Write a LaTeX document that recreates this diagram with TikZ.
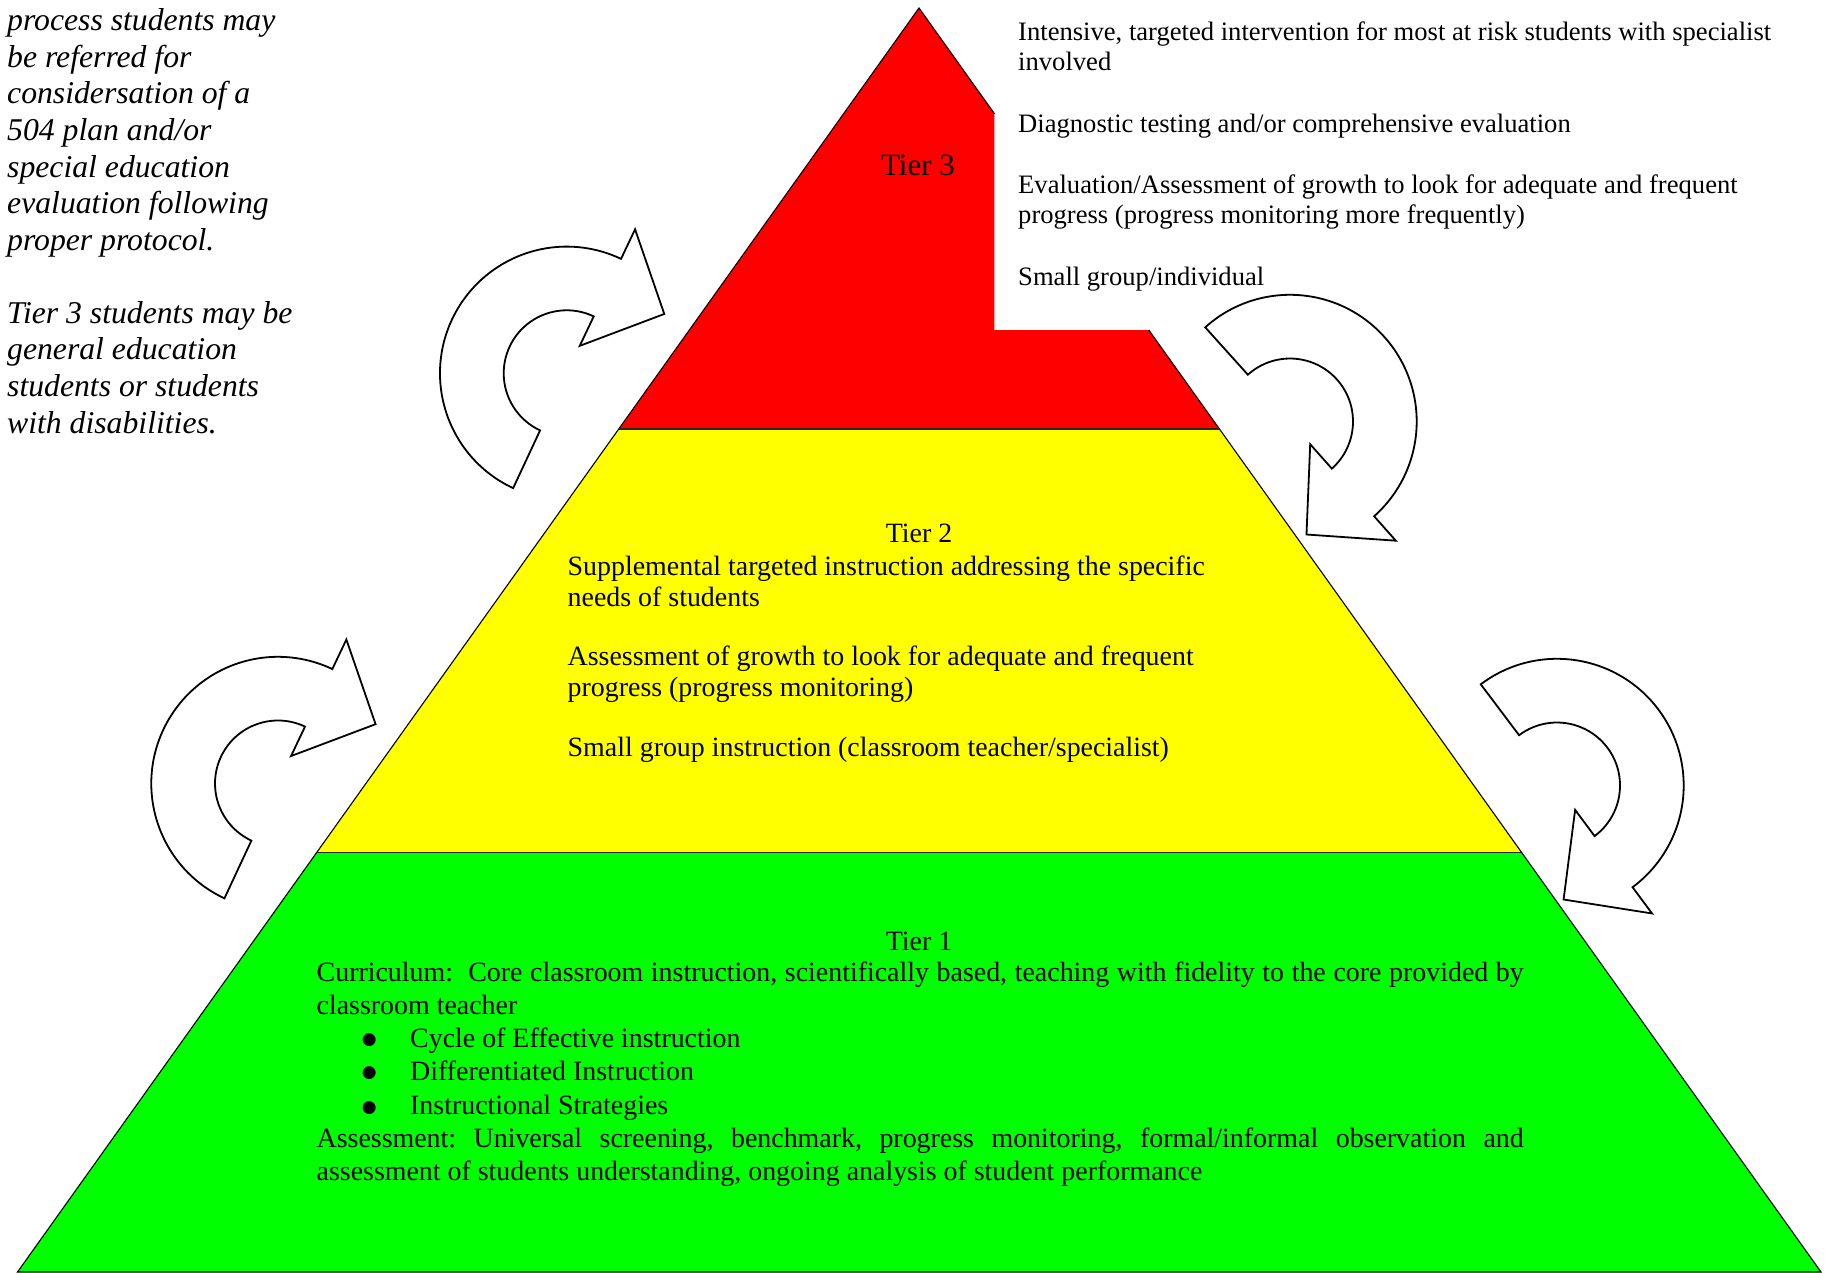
\documentclass[tikz,border=0pt]{standalone}
\usepackage{fontspec}
\setmainfont{Liberation Serif}
\newfontfamily\bulfont{DejaVu Sans}
\usetikzlibrary{calc}
\definecolor{tred}{HTML}{FF0000}
\definecolor{tyellow}{HTML}{FFFF00}
\definecolor{tgreen}{HTML}{00FF00}
\frenchspacing
\tikzset{
  txt/.style={anchor=base west, inner sep=0pt, font=\fontsize{27.9}{33}\selectfont},
  txtthree/.style={anchor=base west, inner sep=0pt, font=\fontsize{26.6}{30}\selectfont},
  ital/.style={anchor=base west, inner sep=0pt, font=\fontsize{31.7}{36.6}\selectfont\itshape},
  tierlabel/.style={anchor=base, inner sep=0pt, font=\fontsize{27.9}{33}\selectfont},
  bul/.style={anchor=base, inner sep=0pt, font=\bulfont\fontsize{17}{20}\selectfont},
  pyredge/.style={draw=black, line width=1.1pt, line join=miter},
  tierline/.style={draw=black!85, line width=1.4pt},
  arrowshape/.style={draw=black, line width=1.8pt, fill=white, line join=miter},
  cycarrow/.pic={
    \draw[arrowshape] (245:126.7) arc[start angle=245, end angle=64.6, radius=126.7]
      -- (64.6:159.4) -- (31.3:114.2) -- (64.6:30.4) -- (64.6:63)
      arc[start angle=64.6, end angle=245, radius=63] -- cycle;
  }
}
\begin{document}
\begin{tikzpicture}[x=1pt,y=1pt]
\useasboundingbox (0,0) rectangle (1828,-1272);
% pyramid geometry
\coordinate (A) at (919,-8);
\coordinate (BL) at (17.5,-1272);
\coordinate (BR) at (1821,-1272);
\coordinate (L3) at ($(A)!0.33307!(BL)$);
\coordinate (R3) at ($(A)!0.33307!(BR)$);
\coordinate (L2) at ($(A)!0.66788!(BL)$);
\coordinate (R2) at ($(A)!0.66788!(BR)$);
\coordinate (N1) at ($(A)!0.08362!(BR)$);
\coordinate (N2) at ($(A)!0.25475!(BR)$);
\coordinate (N1b) at (N1 |- N2);
% tiers
\fill[tgreen] (L2) -- (R2) -- (BR) -- (BL) -- cycle;
\fill[tyellow] (L3) -- (R3) -- (R2) -- (L2) -- cycle;
\fill[tred] (A) -- (N1) -- (N1b) -- (N2) -- (R3) -- (L3) -- cycle;
\draw[pyredge] (N1) -- (A) -- (BL) -- (BR) -- (N2);
\draw[tierline] (L3) -- (R3);
\draw[tierline] (L2) -- (R2);
% circular arrows
\pic at (566.7,-373.3) {cycarrow};
\pic at (278,-783.5) {cycarrow};
\pic[rotate=-113] at (1290,-421.5) {cycarrow};
\pic[rotate=-118] at (1557,-785.5) {cycarrow};
% left italic note
\node[ital] (n1) at (7,-30.6) {process students may};
\node[ital] (n2) at (7,-67.2) {be referred for};
\node[ital] (n3) at (7,-103.8) {considersation of a};
\node[ital] (n4) at (7,-140.4) {504 plan and/or};
\node[ital] (n5) at (7,-177) {special education};
\node[ital] (n6) at (7,-213.6) {evaluation following};
\node[ital] (n7) at (7,-250.2) {proper protocol.};
\node[ital] (n8) at (7,-323) {Tier 3 students may be};
\node[ital] (n9) at (7,-359.7) {general education};
\node[ital] (n10) at (7,-396.4) {students or students};
\node[ital] (n11) at (7,-433.1) {with disabilities.};
% tier 3
\node[tierlabel, font=\fontsize{31}{36}\selectfont] (tier3) at (918,-175) {Tier 3};
\node[txtthree] (c1) at (1018,-40.7) {Intensive, targeted intervention for most at risk students with specialist};
\node[txtthree] (c2) at (1018,-70) {involved};
\node[txtthree] (c3) at (1018,-132.3) {Diagnostic testing and/or comprehensive evaluation};
\node[txtthree] (c4) at (1018,-193.3) {Evaluation/Assessment of growth to look for adequate and frequent};
\node[txtthree] (c5) at (1018,-223.3) {progress (progress monitoring more frequently)};
\node[txtthree] (c6) at (1018,-285) {Small group/individual};
% tier 2
\node[tierlabel] (tier2) at (919,-542.7) {Tier 2};
\node[txt] (b1) at (567.5,-575) {Supplemental targeted instruction addressing the specific};
\node[txt] (b2) at (567.5,-606.7) {needs of students};
\node[txt] (b3) at (567.5,-665) {Assessment of growth to look for adequate and frequent};
\node[txt] (b4) at (567.5,-696.7) {progress (progress monitoring)};
\node[txt] (b5) at (567.5,-756.7) {Small group instruction (classroom teacher/specialist)};
% tier 1
\node[tierlabel] (tier1) at (919,-950) {Tier 1};
\node[txt] (a1) at (316.5,-981.7) {\makebox[1207pt][s]{Curriculum:\ \ Core classroom instruction, scientifically based, teaching with fidelity to the core provided by}};
\node[txt] (a2) at (316.5,-1014.8) {classroom teacher};
\node[bul] (d1) at (369.4,-1044.1) {●};
\node[txt] (a3) at (410,-1047.9) {Cycle of Effective instruction};
\node[bul] (d2) at (369.4,-1077.9) {●};
\node[txt] (a4) at (410,-1080.9) {Differentiated Instruction};
\node[bul] (d3) at (369.4,-1112.9) {●};
\node[txt] (a5) at (410,-1114) {Instructional Strategies};
\node[txt] (a6) at (316.5,-1147) {\makebox[1207pt][s]{Assessment: Universal screening, benchmark, progress monitoring, formal/informal observation and}};
\node[txt] (a7) at (316.5,-1180) {assessment of students understanding, ongoing analysis of student performance};
\end{tikzpicture}
\end{document}
